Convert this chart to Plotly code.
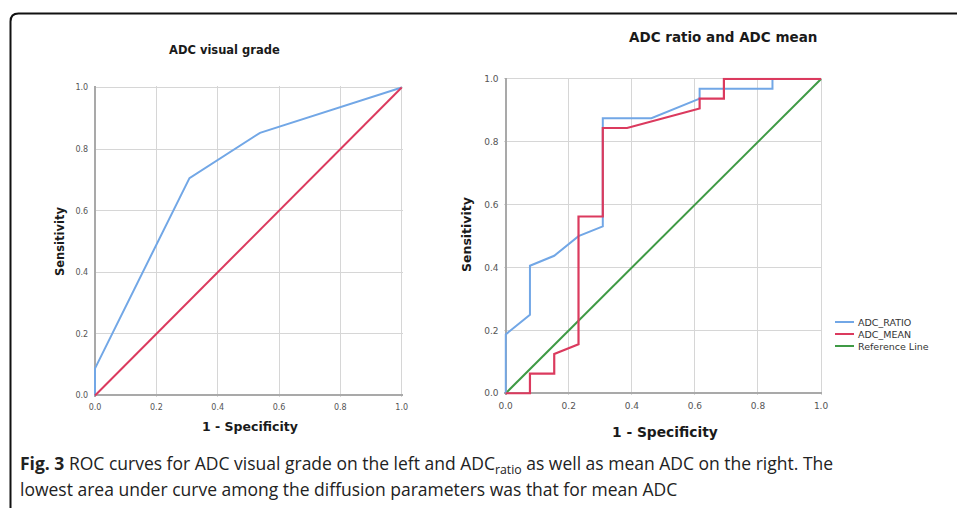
import plotly.graph_objects as go

W, H = 957, 508

# ---------------- data ----------------
tick_vals = [0.0, 0.2, 0.4, 0.6, 0.8, 1.0]
tick_text = ["0.0", "0.2", "0.4", "0.6", "0.8", "1.0"]

# Left: ADC visual grade ROC
visual_fpr = [0.0, 0.0, 0.308, 0.538, 1.0]
visual_tpr = [0.0, 0.088, 0.706, 0.853, 1.0]
ref_left_x = [0.0, 1.0]
ref_left_y = [0.0, 1.0]

# Right: ADC ratio ROC
ratio_fpr = [0.0, 0.0, 0.077, 0.077, 0.154, 0.231, 0.308, 0.308, 0.462,
             0.615, 0.615, 0.846, 0.846, 1.0]
ratio_tpr = [0.0, 0.1875, 0.25, 0.406, 0.4375, 0.5, 0.531, 0.875, 0.875,
             0.9375, 0.969, 0.969, 1.0, 1.0]
# Right: ADC mean ROC
mean_fpr = [0.0, 0.077, 0.077, 0.154, 0.154, 0.231, 0.231, 0.308, 0.308,
            0.385, 0.615, 0.615, 0.692, 0.692, 1.0]
mean_tpr = [0.0, 0.0, 0.0625, 0.0625, 0.125, 0.156, 0.5625, 0.5625, 0.844,
            0.844, 0.906, 0.9375, 0.9375, 1.0, 1.0]
ref_right_x = [0.0, 1.0]
ref_right_y = [0.0, 1.0]

series_names = ["ADC_RATIO", "ADC_MEAN", "Reference Line"]

title_left = "ADC visual grade"
title_right = "ADC ratio and ADC mean"
x_title = "1 - Specificity"
y_title = "Sensitivity"
caption_1 = ("<b>Fig. 3</b> ROC curves for ADC visual grade on the left and ADC<sub>ratio</sub>"
             " as well as mean ADC on the right. The")
caption_2 = "lowest area under curve among the diffusion parameters was that for mean ADC"

# ---------------- style ----------------
BLUE = "#72a7e6"
RED = "#db3a5e"
GREEN = "#3f9a45"
GRID = "#d6d6d6"
AXIS = "#a9a9a9"
TXT = "#1a1a1a"
TICK = "#555555"


def px(x):
    return x / W


def py(y):
    return 1 - y / H


PAD = 0.004
fig = go.Figure()

fig.add_trace(go.Scatter(x=visual_fpr, y=visual_tpr, mode="lines",
                         line=dict(color=BLUE, width=2), xaxis="x", yaxis="y",
                         showlegend=False))
fig.add_trace(go.Scatter(x=ref_left_x, y=ref_left_y, mode="lines",
                         line=dict(color=RED, width=2), xaxis="x", yaxis="y",
                         showlegend=False))

fig.add_trace(go.Scatter(x=ref_right_x, y=ref_right_y, mode="lines",
                         line=dict(color=GREEN, width=2), xaxis="x2", yaxis="y2",
                         showlegend=False))
fig.add_trace(go.Scatter(x=ratio_fpr, y=ratio_tpr, mode="lines",
                         line=dict(color=BLUE, width=2), xaxis="x2", yaxis="y2",
                         showlegend=False))
fig.add_trace(go.Scatter(x=mean_fpr, y=mean_tpr, mode="lines",
                         line=dict(color=RED, width=2.2), xaxis="x2", yaxis="y2",
                         showlegend=False))

axis_common = dict(range=[-PAD, 1 + PAD], tickmode="array", tickvals=tick_vals,
                   ticktext=tick_text, showgrid=True, gridcolor=GRID, gridwidth=1,
                   zeroline=True, zerolinecolor=AXIS, zerolinewidth=1.5,
                   showline=False, ticks="outside", ticklen=3,
                   tickcolor="rgba(0,0,0,0)", fixedrange=True, automargin=False)

fig.update_layout(
    width=W, height=H, margin=dict(l=0, r=0, t=0, b=0, autoexpand=False),
    paper_bgcolor="white", plot_bgcolor="white",
    font=dict(family="DejaVu Sans", color=TXT),
    xaxis=dict(axis_common, domain=[px(93.8), px(402.9)], anchor="y",
               tickfont=dict(size=8, color=TICK)),
    yaxis=dict(axis_common, domain=[py(396.7), py(86.3)], anchor="x",
               tickfont=dict(size=8, color=TICK)),
    xaxis2=dict(axis_common, domain=[px(504.4), px(822.3)], anchor="y2",
                tickfont=dict(size=9, color=TICK)),
    yaxis2=dict(axis_common, domain=[py(394.6), py(77.7)], anchor="x2",
                tickfont=dict(size=9, color=TICK)),
)


def note(text, x, y, size, family="DejaVu Sans", color=TXT, xanchor="center",
         angle=0):
    return dict(text=text, x=px(x), y=py(y), xref="paper", yref="paper",
                xanchor=xanchor, yanchor="middle", showarrow=False,
                textangle=angle, font=dict(size=size, family=family, color=color))


ann = []
ann.append(note("<b>%s</b>" % title_left, 224, 50, 11.5))
ann.append(note("<b>%s</b>" % title_right, 723, 37, 13.5))
ann.append(note("<b>%s</b>" % x_title, 250, 426, 12.5))
ann.append(note("<b>%s</b>" % x_title, 665, 432, 13.8))
ann.append(note("<b>%s</b>" % y_title, 60, 241, 11.5, angle=-90))
ann.append(note("<b>%s</b>" % y_title, 466, 235, 12.5, angle=-90))

# manual legend
shapes = []
leg_colors = [BLUE, RED, GREEN]
for i, (name, c) in enumerate(zip(series_names, leg_colors)):
    yy = 322 + 12 * i
    shapes.append(dict(type="line", xref="paper", yref="paper", x0=px(835), x1=px(854),
                       y0=py(yy), y1=py(yy), line=dict(color=c, width=2)))
    ann.append(note(name, 856, yy, 9.5, color="#333333", xanchor="left"))

# caption
ann.append(note(caption_1, 18, 464, 17.5, family="Open Sans", color="#222222", xanchor="left"))
ann.append(note(caption_2, 18, 489, 17.5, family="Open Sans", color="#222222", xanchor="left"))

# rounded frame
r = 8
path = "M %f,%f L %f,%f Q %f,%f %f,%f L %f,%f" % (
    px(10.5), py(508), px(10.5), py(13.5 + r), px(10.5), py(13.5), px(10.5 + r), py(13.5),
    px(957), py(13.5))
shapes.append(dict(type="path", xref="paper", yref="paper", path=path,
                   line=dict(color="#111111", width=2)))

fig.update_layout(annotations=ann, shapes=shapes)
fig.write_html("out.html", config={"displayModeBar": False},
               post_script="document.body.style.margin='0';document.body.style.padding='0';")
